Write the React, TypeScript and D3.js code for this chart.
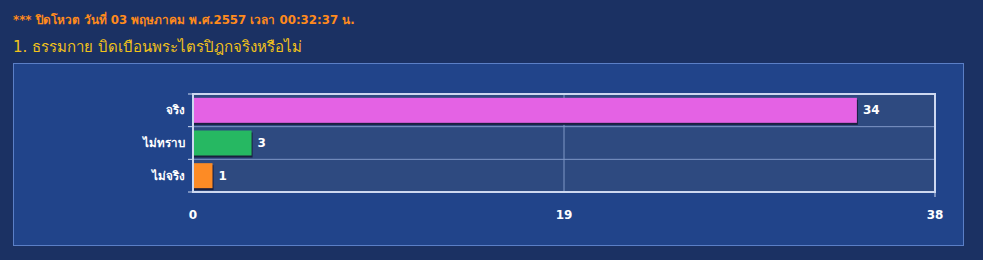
import React from "react";
import * as d3 from "d3";

const categories = ["จริง", "ไม่ทราบ", "ไม่จริง"];
const values = [34, 3, 1];
const barColors = ["#e462e4", "#26b862", "#fd8b25"];
const tickValues = [0, 19, 38];
const headerText = "*** ปิดโหวต วันที่ 03 พฤษภาคม พ.ศ.2557 เวลา 00:32:37 น.";
const titleText = "1. ธรรมกาย บิดเบือนพระไตรปิฎกจริงหรือไม่";

export default function App() {
  const W = 983, H = 260;
  const left = 193, right = 935, top = 94, bottom = 192;
  const x = d3.scaleLinear().domain([0, 38]).range([left, right]);
  const y = d3.scaleBand().domain(categories).range([top, bottom]).paddingInner(0).paddingOuter(0);
  const bw = y.bandwidth();
  const barH = 25;
  const font = "Tahoma, 'DejaVu Sans', 'Noto Sans', sans-serif";
  return (
    <svg width={W} height={H} style={{ position: "absolute", left: 0, top: 0, display: "block" }}>
      <rect x={0} y={0} width={W} height={H} fill="#1b3163" />
      <text x={13} y={24} fill="#ff8a1c" fontSize={11.8} fontWeight="bold" fontFamily={font}>{headerText}</text>
      <text x={13} y={52} fill="#f2c21a" fontSize={15} fontFamily={font}>{titleText}</text>
      <rect x={13.5} y={63.5} width={950} height={182} fill="#21448a" stroke="#5b7fc6" strokeWidth={1} />
      <rect x={left} y={top} width={right - left} height={bottom - top} fill="#2e4a80" />
      {tickValues.slice(1, -1).map((t) => (
        <line key={t} x1={x(t)} x2={x(t)} y1={top} y2={bottom} stroke="#7f97c6" strokeWidth={1} />
      ))}
      {categories.slice(1).map((c) => (
        <line key={c} x1={left} x2={right} y1={y(c)!} y2={y(c)!} stroke="#7f97c6" strokeWidth={1} />
      ))}
      {categories.map((c, i) => {
        const by = y(c)! + (bw - barH) / 2;
        return (
          <g key={c}>
            <rect x={x(0) + 1} y={by + 2} width={x(values[i]) - x(0)} height={barH} fill="#1a1f3e" />
            <rect x={x(0)} y={by} width={x(values[i]) - x(0)} height={barH} fill={barColors[i]} />
            <text x={x(values[i]) + 6} y={y(c)! + bw / 2 + 4} fill="#ffffff" fontSize={12} fontWeight="bold" fontFamily={font}>{values[i]}</text>
            <text x={185} y={y(c)! + bw / 2 + 4} fill="#ffffff" fontSize={11.6} fontWeight="bold" textAnchor="end" fontFamily={font}>{c}</text>
          </g>
        );
      })}
      <rect x={left} y={top} width={right - left} height={bottom - top} fill="none" stroke="#cdd8f0" strokeWidth={2} />
      {[top, ...categories.slice(1).map((c) => y(c)!), bottom].map((v, i) => (
        <line key={i} x1={left - 5} x2={left} y1={v} y2={v} stroke="#cdd8f0" strokeWidth={1} />
      ))}
      <line x1={right} x2={right} y1={bottom} y2={bottom + 5} stroke="#cdd8f0" strokeWidth={1} />
      {tickValues.map((t) => (
        <text key={t} x={x(t)} y={219} fill="#ffffff" fontSize={12} fontWeight="bold" textAnchor="middle" fontFamily={font}>{t}</text>
      ))}
    </svg>
  );
}
